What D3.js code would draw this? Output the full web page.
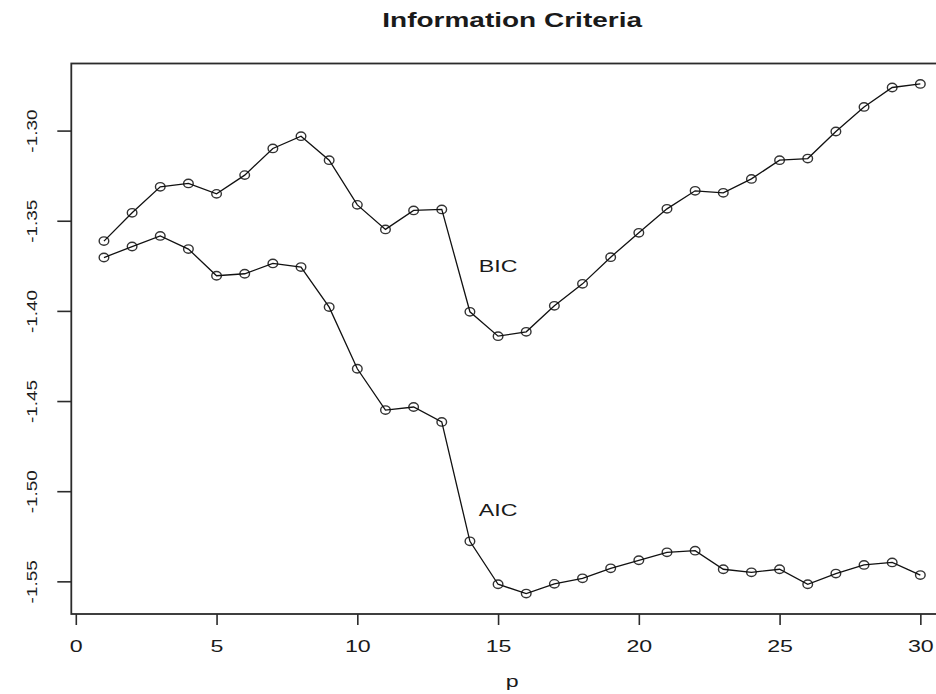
<!DOCTYPE html>
<html>
<head>
<meta charset="utf-8">
<script src="https://cdn.jsdelivr.net/npm/d3@7"></script>
<style>
  html, body { margin: 0; padding: 0; background: #fff; }
  svg { display: block; }
  text { font-family: "Liberation Sans", Arial, Helvetica, sans-serif; fill: #1a1a1a; }
</style>
</head>
<body>
<div id="chart"></div>
<script>
// Model order p
const orders = d3.range(1, 31);

// Information criteria for each order
const bicValues = [
  -1.3613, -1.3456, -1.3312, -1.3293, -1.3351, -1.3247, -1.3099, -1.3031, -1.3164, -1.3412,
  -1.3548, -1.3443, -1.3437, -1.4005, -1.4140, -1.4116, -1.3972, -1.3850, -1.3702, -1.3567,
  -1.3434, -1.3334, -1.3345, -1.3268, -1.3164, -1.3155, -1.3005, -1.2869, -1.2761, -1.2741
];
const aicValues = [
  -1.3704, -1.3643, -1.3584, -1.3657, -1.3805, -1.3794, -1.3737, -1.3757, -1.3979, -1.4321,
  -1.4550, -1.4533, -1.4616, -1.5278, -1.5516, -1.5568, -1.5514, -1.5483, -1.5428, -1.5383,
  -1.5339, -1.5330, -1.5433, -1.5450, -1.5433, -1.5516, -1.5457, -1.5409, -1.5395, -1.5465
];

const xTicks = [0, 5, 10, 15, 20, 25, 30];
const yTicks = [-1.30, -1.35, -1.40, -1.45, -1.50, -1.55];
const yTickLabels = ["-1.30", "-1.35", "-1.40", "-1.45", "-1.50", "-1.55"];

const W = 936, H = 694;
const plot = { left: 71.3, right: 953, top: 63.5, bottom: 614 };

// Axis ranges padded by 4% on each side
function padded(ext) {
  const d = (ext[1] - ext[0]) * 0.04;
  return [ext[0] - d, ext[1] + d];
}
const x = d3.scaleLinear()
  .domain(padded(d3.extent(orders)))
  .range([plot.left, plot.right]);
const y = d3.scaleLinear()
  .domain(padded(d3.extent(bicValues.concat(aicValues))))
  .range([plot.bottom, plot.top]);

const svg = d3.select("#chart").append("svg")
  .attr("width", W).attr("height", H);

const ink = "#2b2b2b";

// Series: open markers with the connecting line running through them
const series = [
  { name: "BIC", values: bicValues },
  { name: "AIC", values: aicValues }
];
const line = d3.line().x((d, i) => x(orders[i])).y(d => y(d));

series.forEach(s => {
  const g = svg.append("g");
  g.selectAll("ellipse").data(s.values).join("ellipse")
    .attr("cx", (d, i) => x(orders[i]))
    .attr("cy", d => y(d))
    .attr("rx", 4.8).attr("ry", 4.2)
    .attr("fill", "none")
    .attr("stroke", "#333")
    .attr("stroke-width", 1.4);
  g.append("path")
    .attr("d", line(s.values))
    .attr("fill", "none")
    .attr("stroke", "#111")
    .attr("stroke-width", 1.3);
});

// Series labels
const seriesLabels = [
  { name: "BIC", p: 15, value: -1.3752 },
  { name: "AIC", p: 15, value: -1.5104 }
];
svg.selectAll("text.series-label").data(seriesLabels).join("text")
  .attr("class", "series-label")
  .attr("text-anchor", "middle")
  .attr("font-size", 16)
  .attr("transform", d => `translate(${x(d.p)},${y(d.value) + 6}) scale(1.45,1)`)
  .text(d => d.name);

// Frame
svg.append("rect")
  .attr("x", plot.left).attr("y", plot.top)
  .attr("width", plot.right - plot.left)
  .attr("height", plot.bottom - plot.top)
  .attr("fill", "none")
  .attr("stroke", ink)
  .attr("stroke-width", 1.8);

// X axis
const gx = svg.append("g")
  .attr("transform", `translate(0,${plot.bottom})`)
  .call(d3.axisBottom(x).tickValues(xTicks).tickSize(11).tickFormat(d3.format("d")));
gx.select(".domain").remove();
gx.selectAll(".tick line").attr("stroke", ink).attr("stroke-width", 1.6);
gx.selectAll(".tick text")
  .attr("y", null).attr("dy", null)
  .attr("font-size", 16)
  .attr("font-family", null)
  .attr("fill", "#1a1a1a")
  .attr("text-anchor", "middle")
  .attr("transform", "translate(0,37.5) scale(1.45,1)");

// Y axis
const gy = svg.append("g")
  .attr("transform", `translate(${plot.left},0)`)
  .call(d3.axisLeft(y).tickValues(yTicks).tickSize(14)
    .tickFormat((d, i) => yTickLabels[i]));
gy.select(".domain").remove();
gy.selectAll(".tick line").attr("stroke", ink).attr("stroke-width", 1.6);
gy.selectAll(".tick text")
  .attr("x", null).attr("dy", null)
  .attr("font-size", 14)
  .attr("font-family", null)
  .attr("fill", "#1a1a1a")
  .attr("text-anchor", "middle")
  .attr("transform", "translate(-34.5,0) rotate(-90) scale(1.35,1)");

// Title and axis title
const cx = (plot.left + plot.right) / 2;
svg.append("text")
  .attr("text-anchor", "middle")
  .attr("font-size", 20)
  .attr("font-weight", "bold")
  .attr("transform", `translate(${cx},27) scale(1.4,1)`)
  .text("Information Criteria");

svg.append("text")
  .attr("text-anchor", "middle")
  .attr("font-size", 16)
  .attr("transform", `translate(${cx},687) scale(1.45,1)`)
  .text("p");
</script>
</body>
</html>
